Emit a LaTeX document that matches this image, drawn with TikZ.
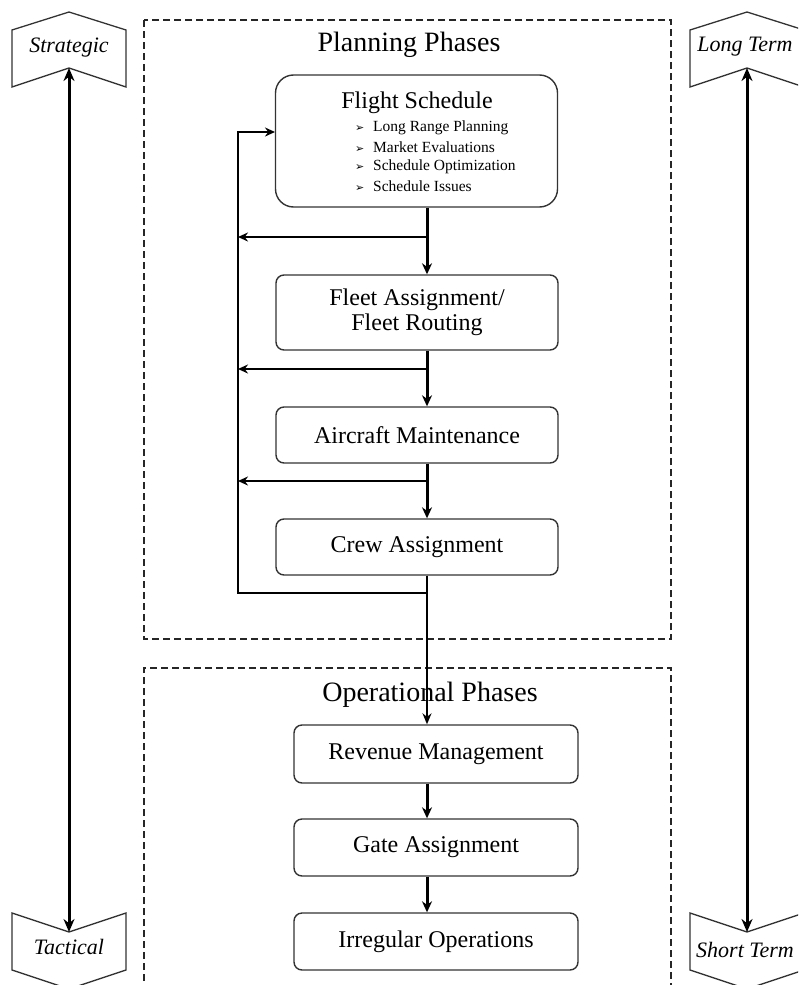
\documentclass[tikz,border=0pt]{standalone}
\usepackage{fontspec}
\setmainfont{Liberation Serif}
\newfontfamily\dejavu{DejaVu Sans}
\usetikzlibrary{arrows.meta}
\newcommand\blt{\makebox[18pt][l]{\dejavu\fontsize{11}{12}\selectfont ➢}}
\begin{document}
\begin{tikzpicture}[x=1pt,y=-1pt,
  box/.style={draw=black!80, line width=1.4pt, rounded corners=8pt, minimum width=282pt, inner sep=0pt},
  lbl/.style={font=\fontsize{24}{28}\selectfont, inner sep=0pt, align=center},
  title/.style={font=\fontsize{28}{32}\selectfont, inner sep=0pt},
  bul/.style={font=\fontsize{15.5}{18}\selectfont, inner sep=0pt, anchor=west},
  phase/.style={draw=black!85, line width=2.6pt, dash pattern=on 7pt off 4pt},
  flow/.style={line width=3pt, -{Stealth[length=11pt,width=10pt]}},
  fbarrow/.style={line width=2.4pt, -{Stealth[length=10pt,width=9pt]}},
  fbline/.style={line width=1.8pt},
  thinflow/.style={line width=1.6pt, -{Stealth[length=11pt,width=9pt]}},
  dbl/.style={line width=3pt, {Stealth[length=13pt,width=11pt]}-{Stealth[length=13pt,width=11pt]}},
  tag/.style={draw=black!80, line width=1.3pt},
  taglbl/.style={font=\fontsize{22}{26}\selectfont\itshape, inner sep=0pt}]
\useasboundingbox (0,0) rectangle (798,985);
\clip (0,0) rectangle (798,985);

% phase frames
\draw[phase] (144,20) rectangle (671,639);
\draw[phase] (144,992) -- (144,668) -- (671,668) -- (671,992);
\node[title] (plant) at (409,45) {Planning Phases};
\node[title] (opert) at (430,695) {Operational Phases};

% side tags
\draw[tag] (12,30) -- (69,12) -- (126,30) -- (126,87) -- (69,68) -- (12,87) -- cycle;
\node[taglbl] (strat) at (69,48) {Strategic};
\draw[tag] (12,913) -- (69,932) -- (126,913) -- (126,970) -- (69,989) -- (12,970) -- cycle;
\node[taglbl] (tact) at (69,947) {Tactical};
\draw[tag] (690,30) -- (747,12) -- (804,30) -- (804,87) -- (747,68) -- (690,87) -- cycle;
\node[taglbl] (longt) at (745,47) {Long Term};
\draw[tag] (690,913) -- (747,932) -- (804,913) -- (804,970) -- (747,989) -- (690,970) -- cycle;
\node[taglbl] (shortt) at (745,950) {Short Term};
\coordinate (sa) at (69,68);
\coordinate (ta) at (69,932);
\coordinate (la) at (747,68);
\coordinate (sha) at (747,932);
\draw[dbl] (sa) -- (ta);
\draw[dbl] (la) -- (sha);

% planning boxes
\node[box, rounded corners=18pt, minimum height=132pt] (fs) at (416.5,141) {};
\node[lbl] (fst) at (417,103) {Flight Schedule};
\node[bul] (b1) at (355,128) {\blt Long Range Planning};
\node[bul] (b2) at (355,147) {\blt Market Evaluations};
\node[bul] (b3) at (355,167) {\blt Schedule Optimization};
\node[bul] (b4) at (355,186) {\blt Schedule Issues};
\node[box, minimum height=75pt] (fleet) at (417,312.5) {};
\node[lbl] (fleett) at (417,312.5) {Fleet Assignment/\\[-3pt]Fleet Routing};
\node[box, minimum height=56pt] (air) at (417,435) {};
\node[lbl] (airt) at (417,435) {Aircraft Maintenance};
\node[box, minimum height=56pt] (crew) at (417,547) {};
\node[lbl] (crewt) at (417,547) {Crew Assignment};

% operational boxes
\node[box, minimum width=284pt, minimum height=58pt] (rev) at (436,754) {};
\node[lbl] (revt) at (436,754) {Revenue Management};
\node[box, minimum width=284pt, minimum height=57pt] (gate) at (436,847.5) {};
\node[lbl] (gatet) at (436,847.5) {Gate Assignment};
\node[box, minimum width=284pt, minimum height=57pt] (irr) at (436,941.5) {};
\node[lbl] (irrt) at (436,941.5) {Irregular Operations};

% connectors
\coordinate (vx) at (427,0);
\coordinate (lx) at (238,0);
\coordinate (j1) at (427,237);
\coordinate (j2) at (427,369);
\coordinate (j3) at (427,481);
\coordinate (k1) at (427,593);
\coordinate (fsin) at (275,132);
\draw[flow] (fs.south -| vx) -- (fleet.north -| vx);
\draw[flow] (fleet.south -| vx) -- (air.north -| vx);
\draw[flow] (air.south -| vx) -- (crew.north -| vx);
\draw[fbarrow] (j1) -- (j1 -| lx);
\draw[fbarrow] (j2) -- (j2 -| lx);
\draw[fbarrow] (j3) -- (j3 -| lx);
\draw[fbline, -{Stealth[length=10pt,width=9pt]}] (crew.south -| vx) -- (k1) -- (k1 -| lx) -- (lx |- fsin) -- (fsin);
\draw[thinflow] (crew.south -| vx) -- (rev.north -| vx);
\draw[flow] (rev.south -| vx) -- (gate.north -| vx);
\draw[flow] (gate.south -| vx) -- (irr.north -| vx);
\end{tikzpicture}
\end{document}
